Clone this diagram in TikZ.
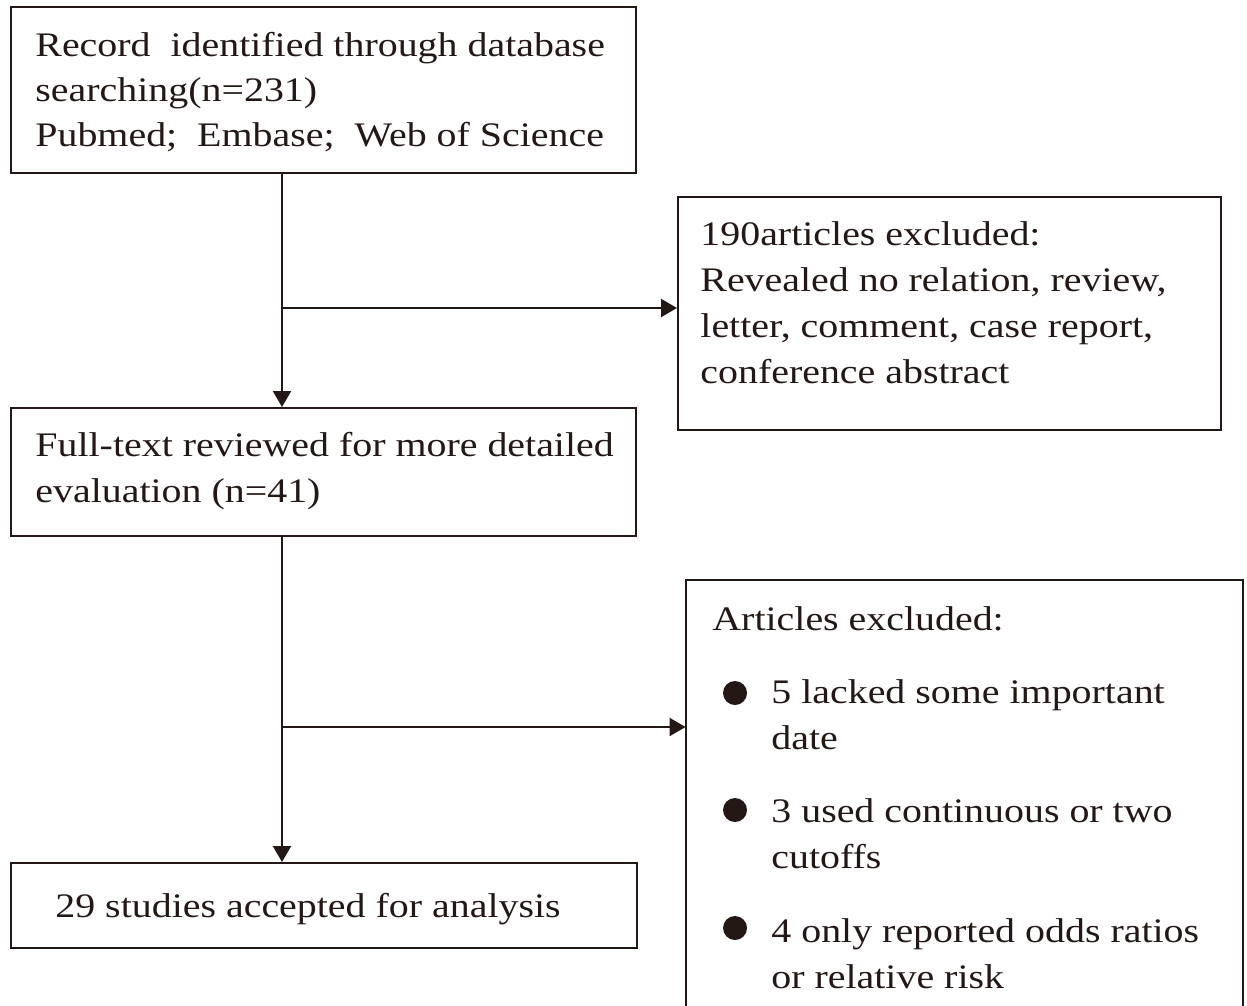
\documentclass[tikz,border=0pt]{standalone}
\usepackage{fontspec}
\setmainfont{Liberation Serif}[FakeStretch=1.16]
\usetikzlibrary{arrows.meta}
\definecolor{ink}{RGB}{35,24,21}
\begin{document}
\begin{tikzpicture}[x=0.5pt,y=-0.5pt,
  box/.style={draw=ink,line width=1pt,inner sep=0pt,rectangle},
  txt/.style={anchor=base west,inner sep=0pt,text=ink,font=\fontsize{17.2pt}{23pt}\selectfont},
  conn/.style={draw=ink,line width=1pt},
  arr/.style={conn,-{Triangle[length=8pt,width=9pt]}},
  dot/.style={circle,fill=ink,inner sep=0pt,minimum size=12pt}]
\useasboundingbox (0,0) rectangle (1247,1006);
% boxes
\node[box,minimum width=312.5pt,minimum height=83pt] (b1) at (323.5,90) {};
\node[box,minimum width=271.5pt,minimum height=116.5pt] (b2) at (949.5,313.5) {};
\node[box,minimum width=312.5pt,minimum height=64pt] (b3) at (323.5,472) {};
\node[box,minimum width=313pt,minimum height=42.5pt] (b5) at (324,905.5) {};
\node[inner sep=0pt,minimum width=278.5pt,minimum height=230pt] (b4) at (964.5,810) {};
\draw[conn] (b4.south west) -- (b4.north west) -- (b4.north east) -- (b4.south east);
% texts
\node[txt] (t1a) at (35,57) {Record\ \ identified through database};
\node[txt] (t1b) at (35,102) {searching(n=231)};
\node[txt] (t1c) at (35,147) {Pubmed;\ \ Embase;\ \ Web of Science};
\node[txt] (t2a) at (700,245) {190articles excluded:};
\node[txt] (t2b) at (700,291) {Revealed no relation, review,};
\node[txt] (t2c) at (700,337) {letter, comment, case report,};
\node[txt] (t2d) at (700,383) {conference abstract};
\node[txt] (t3a) at (35,456) {Full-text reviewed for more detailed};
\node[txt] (t3b) at (35,502) {evaluation (n=41)};
\node[txt] (t5) at (55,917) {29 studies accepted for analysis};
\node[txt] (t4) at (712,630) {Articles excluded:};
\node[dot] (d1) at (735,693) {};
\node[dot] (d2) at (735,810) {};
\node[dot] (d3) at (735,928) {};
\node[txt] (t4a) at (771,703) {5 lacked some important};
\node[txt] (t4b) at (771,749) {date};
\node[txt] (t4c) at (771,822) {3 used continuous or two};
\node[txt] (t4d) at (771,868) {cutoffs};
\node[txt] (t4e) at (771,942) {4 only reported odds ratios};
\node[txt] (t4f) at (771,988) {or relative risk};
% connectors
\coordinate (s1) at (282,308);
\coordinate (s2) at (282,727);
\draw[arr] (282,0 |- b1.south) -- (282,0 |- b3.north);
\draw[arr] (s1) -- (s1 -| b2.west);
\draw[arr] (282,0 |- b3.south) -- (282,0 |- b5.north);
\draw[arr] (s2) -- (s2 -| b4.west);
\end{tikzpicture}
\end{document}
